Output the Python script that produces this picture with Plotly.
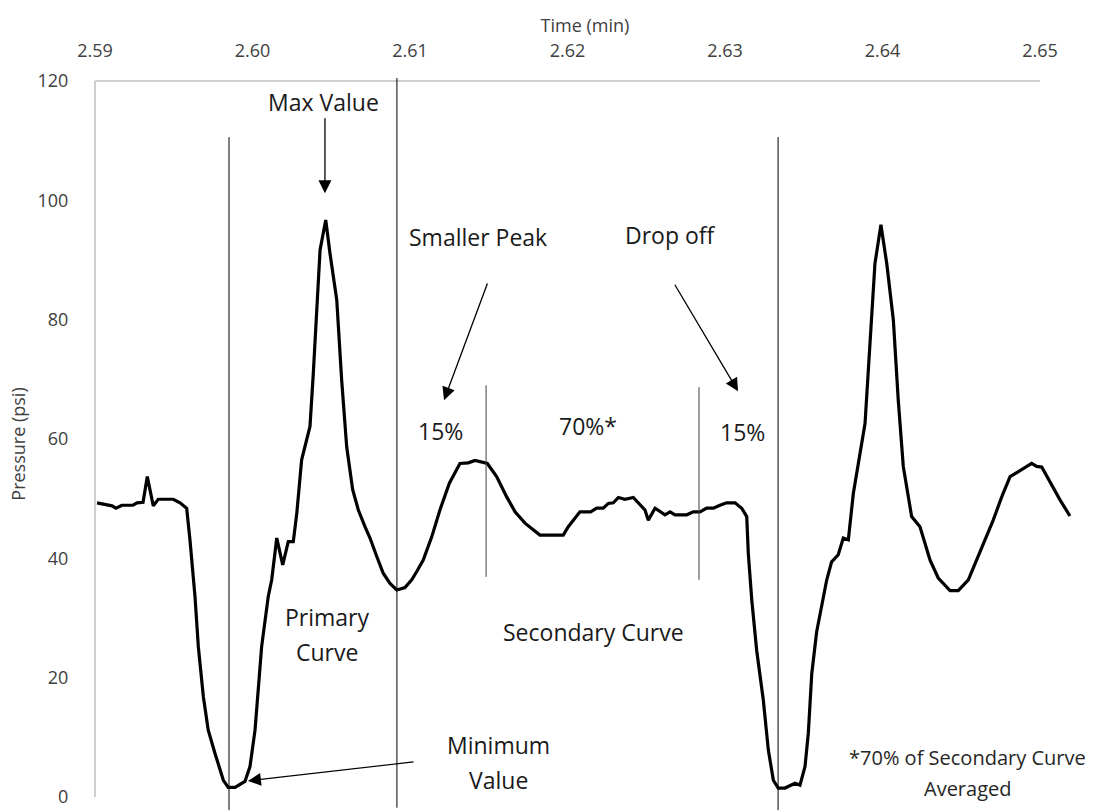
import plotly.graph_objects as go

# ---------------- data ----------------
time_min = [
    2.59013, 2.59076, 2.59108, 2.59133, 2.59171, 2.59241, 2.59267, 2.59305, 2.59332, 2.59370,
    2.59402, 2.59497, 2.59540, 2.59582, 2.59603, 2.59635, 2.59656, 2.59688, 2.59719, 2.59762,
    2.59783, 2.59815, 2.59846, 2.59889, 2.59952, 2.59984, 2.60016, 2.60058, 2.60100, 2.60122,
    2.60154, 2.60192, 2.60227, 2.60259, 2.60281, 2.60312, 2.60365, 2.60386, 2.60429, 2.60465,
    2.60492, 2.60535, 2.60566, 2.60598, 2.60636, 2.60672, 2.60714, 2.60746, 2.60789, 2.60830,
    2.60873, 2.60916, 2.60968, 2.61011, 2.61043, 2.61084, 2.61138, 2.61190, 2.61250, 2.61317,
    2.61370, 2.61413, 2.61491, 2.61550, 2.61614, 2.61667, 2.61730, 2.61825, 2.61973, 2.62005,
    2.62079, 2.62147, 2.62185, 2.62227, 2.62259, 2.62291, 2.62323, 2.62365, 2.62418, 2.62471,
    2.62492, 2.62513, 2.62556, 2.62619, 2.62651, 2.62683, 2.62757, 2.62799, 2.62841, 2.62884,
    2.62926, 2.62968, 2.63011, 2.63064, 2.63106, 2.63138, 2.63148, 2.63170, 2.63201, 2.63243,
    2.63275, 2.63307, 2.63338, 2.63381, 2.63444, 2.63476, 2.63508, 2.63529, 2.63551, 2.63582,
    2.63624, 2.63646, 2.63677, 2.63719, 2.63751, 2.63783, 2.63815, 2.63846, 2.63889, 2.63952,
    2.63990, 2.64027, 2.64069, 2.64100, 2.64132, 2.64185, 2.64238, 2.64302, 2.64354, 2.64429,
    2.64481, 2.64545, 2.64619, 2.64703, 2.64757, 2.64810, 2.64873, 2.64916, 2.64947, 2.64979,
    2.65011, 2.65127, 2.65190,
]
pressure_psi = [
    49.3, 48.9, 48.8, 48.4, 48.9, 48.9, 49.3, 49.4, 53.7, 48.8,
    49.9, 49.9, 49.3, 48.4, 43.1, 33.6, 25.2, 16.8, 11.2, 7.3,
    5.6, 2.8, 1.6, 1.6, 2.6, 5.1, 11.2, 25.2, 33.6, 36.4,
    43.4, 38.9, 42.8, 42.8, 47.5, 56.5, 62.1, 71.0, 91.7, 96.7,
    91.1, 83.3, 69.9, 58.7, 51.5, 48.1, 45.3, 43.4, 40.3, 37.5,
    35.8, 34.7, 35.1, 36.4, 37.8, 39.7, 43.6, 48.1, 52.6, 55.9,
    56.0, 56.4, 55.9, 53.7, 50.3, 47.8, 45.9, 43.9, 43.9, 45.3,
    47.8, 47.8, 48.4, 48.4, 49.2, 49.3, 50.2, 49.9, 50.2, 48.7,
    48.1, 46.4, 48.4, 47.3, 47.8, 47.3, 47.3, 47.8, 47.8, 48.4,
    48.4, 48.9, 49.3, 49.3, 48.4, 47.0, 40.8, 33.0, 24.6, 16.3,
    7.9, 2.8, 1.5, 1.5, 2.3, 2.0, 5.1, 10.7, 20.7, 27.7,
    33.0, 36.4, 39.4, 40.6, 43.4, 43.1, 50.9, 55.9, 62.6, 89.4,
    95.9, 89.4, 79.9, 66.5, 55.4, 47.0, 45.3, 39.7, 36.7, 34.6,
    34.6, 36.4, 41.1, 46.4, 50.3, 53.7, 54.7, 55.4, 55.9, 55.4,
    55.3, 49.8, 47.1,
]

x_ticks = [2.59, 2.60, 2.61, 2.62, 2.63, 2.64, 2.65]
y_ticks = [0, 20, 40, 60, 80, 100, 120]

# vertical divider lines (time, top, bottom)
divider_times = [2.59851, 2.60917, 2.61483, 2.62835, 2.63337]
divider_tops = [110.6, 120.5, 69.0, 68.7, 110.6]
divider_bottoms = [-2.2, -1.8, 36.9, 36.4, -2.2]

# text labels (text, time, pressure)
label_texts = ["Max Value", "Smaller Peak", "Drop off", "15%", "70%*", "15%",
               "Primary", "Curve", "Secondary Curve", "Minimum", "Value"]
label_times = [2.60448, 2.61432, 2.62651, 2.61194, 2.62130, 2.63114,
               2.60473, 2.60473, 2.62168, 2.61565, 2.61565]
label_values = [116.5, 93.9, 94.2, 61.3, 62.1, 61.1,
                30.2, 24.3, 27.7, 8.7, 2.8]

note_texts = ["*70% of Secondary Curve", "Averaged"]
note_times = [2.64537, 2.64537]
note_values = [6.7, 1.5]

# arrows: tip (time, value) and tail (time, value)
arrow_tip_t = [2.60460, 2.61216, 2.63083, 2.59971]
arrow_tip_v = [101.2, 66.5, 68.0, 2.7]
arrow_tail_t = [2.60460, 2.61495, 2.62676, 2.61032]
arrow_tail_v = [114.0, 86.3, 86.1, 5.9]

# ---------------- figure ----------------
FONT = "Open Sans, DejaVu Sans, sans-serif"
W, H = 1094, 812
ML, MR, MT, MB = 90, 14, 77, 1
px_per_min = 15750.0  # horizontal scale of the reference (px per minute)
x_lo = 2.59 - 5 / px_per_min
x_hi = x_lo + (W - ML - MR) / px_per_min
px_per_psi = 716 / 120.0
y_hi = 120 + 4 / px_per_psi
y_lo = 0 - (H - MT - MB - 720) / px_per_psi

fig = go.Figure()
fig.add_trace(go.Scatter(
    x=time_min, y=pressure_psi, mode="lines",
    line=dict(color="black", width=3.2),
    hoverinfo="skip", showlegend=False,
))

shapes = []
# axis lines (top and left), light grey
shapes.append(dict(type="line", xref="x", yref="y", x0=x_ticks[0], x1=x_ticks[-1],
                   y0=y_ticks[-1], y1=y_ticks[-1], line=dict(color="#bfbfbf", width=1.5)))
shapes.append(dict(type="line", xref="x", yref="y", x0=x_ticks[0], x1=x_ticks[0],
                   y0=y_ticks[0], y1=y_ticks[-1], line=dict(color="#bfbfbf", width=1.5)))
for i, (t, top, bot) in enumerate(zip(divider_times, divider_tops, divider_bottoms)):
    inner = i in (2, 3)
    shapes.append(dict(type="line", xref="x", yref="y", x0=t, x1=t, y0=bot, y1=top,
                       line=dict(color="#404040" if inner else "black", width=1)))

annotations = []
for txt, t, v in zip(label_texts, label_times, label_values):
    annotations.append(dict(x=t, y=v, xref="x", yref="y", text=txt, showarrow=False,
                            xanchor="center", yanchor="middle",
                            font=dict(family=FONT, size=23, color="#1a1a1a")))
for txt, t, v in zip(note_texts, note_times, note_values):
    annotations.append(dict(x=t, y=v, xref="x", yref="y", text=txt, showarrow=False,
                            xanchor="center", yanchor="middle",
                            font=dict(family=FONT, size=20, color="#262626")))
for tt, tv, at, av in zip(arrow_tip_t, arrow_tip_v, arrow_tail_t, arrow_tail_v):
    annotations.append(dict(x=tt, y=tv, xref="x", yref="y", ax=at, ay=av,
                            axref="x", ayref="y", text="", showarrow=True,
                            arrowhead=2, arrowsize=2, arrowwidth=1.3,
                            arrowcolor="black", standoff=0))

TICK_COLOR = "#404040"
fig.update_layout(
    width=W, height=H, autosize=False,
    margin=dict(l=ML, r=MR, t=MT, b=MB, pad=0),
    paper_bgcolor="white", plot_bgcolor="white",
    font=dict(family=FONT, size=18, color=TICK_COLOR),
    showlegend=False,
    shapes=shapes, annotations=annotations,
    xaxis=dict(
        side="top", range=[x_lo, x_hi], tickvals=x_ticks, tickformat=".2f",
        showgrid=False, zeroline=False, showline=False,
        ticks="outside", ticklen=12, tickcolor="rgba(0,0,0,0)",
        tickfont=dict(family=FONT, size=18, color=TICK_COLOR),
        title=dict(text="Time (min)", font=dict(family=FONT, size=18, color=TICK_COLOR),
                   standoff=0),
    ),
    yaxis=dict(
        range=[y_lo, y_hi], tickvals=y_ticks,
        showgrid=False, zeroline=False, showline=False,
        ticks="outside", ticklen=17, tickcolor="rgba(0,0,0,0)",
        tickfont=dict(family=FONT, size=18, color=TICK_COLOR),
        title=dict(text="Pressure (psi)", font=dict(family=FONT, size=18, color=TICK_COLOR),
                   standoff=7),
    ),
)

fig.write_html("out.html")
